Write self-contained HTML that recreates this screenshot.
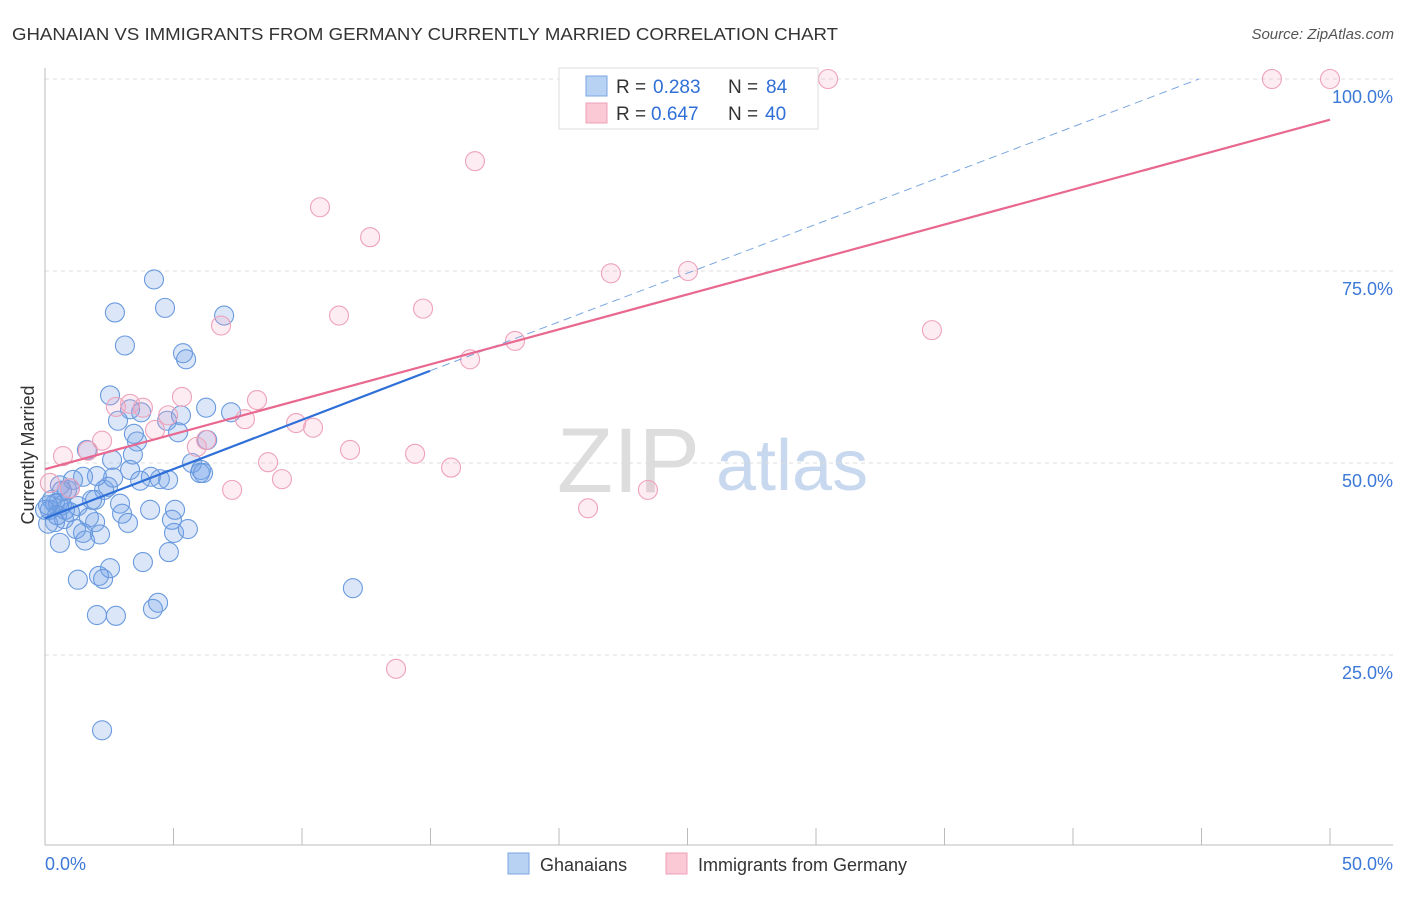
<!DOCTYPE html>
<html><head><meta charset="utf-8"><style>
body{margin:0;background:#fff;font-family:"Liberation Sans",sans-serif;}
svg text{font-family:"Liberation Sans",sans-serif;}
</style></head><body>
<svg width="1406" height="892" viewBox="0 0 1406 892">
<text x="12" y="40" font-size="17.5" fill="#333" textLength="826" lengthAdjust="spacingAndGlyphs">GHANAIAN VS IMMIGRANTS FROM GERMANY CURRENTLY MARRIED CORRELATION CHART</text>
<text x="1394" y="39" font-size="15" fill="#555" font-style="italic" text-anchor="end">Source: ZipAtlas.com</text>
<text x="700" y="492" font-size="92" fill="#ddd" text-anchor="end" font-family="Liberation Serif">ZIP</text>
<text x="716" y="490" font-size="72" fill="#c8d8ee">atlas</text>
<g id="grid"></g>
<g id="axes"></g>
<g id="pts"></g>
<g id="lines"></g>
<text x="34" y="455" font-size="18" fill="#333" text-anchor="middle" transform="rotate(-90 34 455)">Currently Married</text>
<g>
<rect x="559" y="68" width="259" height="61" fill="#fff" stroke="#ddd"/>
<rect x="586" y="76" width="21" height="20" fill="#b8d2f4" stroke="#7aa6e0"/>
<rect x="586" y="103" width="21" height="20" fill="#fbc8d6" stroke="#eca0b8"/>
<text x="616" y="93" font-size="19" fill="#333">R =</text><text x="653" y="93" font-size="19" fill="#2f6fd8">0.283</text>
<text x="728" y="93" font-size="19" fill="#333">N =</text><text x="766" y="93" font-size="19" fill="#2f6fd8">84</text>
<text x="616" y="120" font-size="19" fill="#333">R =</text><text x="651" y="120" font-size="19" fill="#2f6fd8">0.647</text>
<text x="728" y="120" font-size="19" fill="#333">N =</text><text x="765" y="120" font-size="19" fill="#2f6fd8">40</text>
</g>
<g>
<rect x="508" y="853" width="21" height="21" fill="#b8d2f4" stroke="#7aa6e0"/>
<text x="540" y="871" font-size="18" fill="#333">Ghanaians</text>
<rect x="666" y="853" width="21" height="21" fill="#fbc8d6" stroke="#eca0b8"/>
<text x="698" y="871" font-size="18" fill="#333">Immigrants from Germany</text>
</g>
</svg>
<script>
const blueX=[4.24,2.72,4.67,6.97,3.11,5.37,5.49,2.53,3.31,3.74,6.27,7.24,2.84,4.75,5.29,5.18,3.46,3.58,3.42,1.63,6.31,5.72,6.07,6.15,6.03,4.47,4.12,4.79,3.70,2.45,2.30,2.65,2.02,1.48,1.09,0.58,0.27,0.39,0.19,0.51,0.66,0.78,0.97,1.28,1.83,2.92,3.00,1.71,1.95,1.21,1.48,0.74,0.39,0.12,0.58,1.56,2.14,5.06,4.94,5.02,5.56,3.23,4.82,3.81,2.53,2.10,2.26,1.28,4.40,4.20,2.02,2.76,11.98,2.22,0.86,0.0,0.12,0.66,0.97,2.61,1.95,4.09,3.31,0.47];
const blueY=[73.9,69.6,70.2,69.2,65.3,64.3,63.5,58.8,57.0,56.6,57.2,56.6,55.5,55.5,56.2,54.0,53.8,52.8,51.1,51.7,53.0,50.0,49.1,48.7,48.7,47.9,48.2,47.8,47.7,46.9,46.5,48.1,48.3,48.2,47.8,47.1,45.2,44.7,43.9,44.8,44.5,43.9,43.6,44.4,45.2,44.7,43.4,42.9,42.3,41.4,40.9,42.7,42.3,42.1,39.6,39.9,40.7,43.9,42.6,40.9,41.4,42.2,38.4,37.1,36.3,35.3,34.9,34.8,31.8,31.0,30.2,30.1,33.7,15.2,46.5,43.9,44.5,46.4,46.7,50.4,45.2,43.9,49.1,43.2];
const pinkX=[30.47,47.74,50.0,16.73,10.70,12.65,22.02,25.02,6.85,11.44,14.71,34.51,18.29,16.54,5.33,8.25,3.31,3.81,2.76,4.79,7.78,4.28,9.77,10.43,6.27,5.91,2.22,1.67,0.70,11.87,14.40,15.80,8.68,9.22,7.28,23.46,21.13,13.66,0.19,0.97];
const pinkY=[100,100,100,89.3,83.3,79.4,74.7,75.0,67.9,69.2,70.1,67.3,65.9,63.5,58.6,58.2,57.7,57.2,57.3,56.2,55.7,54.3,55.2,54.6,53.0,52.1,52.9,51.6,50.9,51.7,51.2,49.4,50.1,47.9,46.5,46.5,44.1,23.2,47.4,46.7];
const blueFit=[0,42.8,14.98,62.0,44.9,100];
const pinkFit=[0,49.2,50,94.7];
const NS='http://www.w3.org/2000/svg';
const X=v=>45+v/50*1285, Y=v=>847-v/100*768;
function mk(t,a,p){const e=document.createElementNS(NS,t);for(const k in a)e.setAttribute(k,a[k]);document.getElementById(p).appendChild(e);return e;}
[25,50,75,100].forEach(v=>{
 const l=mk('line',{x1:45,x2:1393,y1:Y(v),y2:Y(v),stroke:'#ddd','stroke-dasharray':'4 4'},'grid');
 
 
 const t=mk('text',{x:1393,y:Y(v)+24,'font-size':18,fill:'#3b78d8','text-anchor':'end'},'grid');
 t.textContent=v.toFixed(1)+'%';
 
 
});
mk('line',{x1:45,x2:45,y1:68,y2:845,stroke:'#bbb'},'axes');
mk('line',{x1:45,x2:1393,y1:845,y2:845,stroke:'#bbb'},'axes');
for(let i=0;i<=10;i++){const tk=mk('line',{x1:X(i*5),x2:X(i*5),y1:828,y2:845,stroke:'#bbb'},'axes');
 
 }
let t0=mk('text',{x:45,y:870,'font-size':18,fill:'#3b78d8'},'axes');t0.textContent='0.0%';


let t1=mk('text',{x:1393,y:870,'font-size':18,fill:'#3b78d8','text-anchor':'end'},'axes');t1.textContent='50.0%';


blueX.forEach((v,i)=>{const c=mk('circle',{cx:X(v),cy:Y(blueY[i]),r:9.5,fill:'rgba(110,160,230,0.25)',stroke:'#6a9ade','stroke-width':1.1},'pts');
 
 });
pinkX.forEach((v,i)=>{const c=mk('circle',{cx:X(v),cy:Y(pinkY[i]),r:9.5,fill:'rgba(245,160,190,0.2)',stroke:'#eea2ba','stroke-width':1.1},'pts');
 
 });
let b1=mk('line',{x1:X(blueFit[0]),y1:Y(blueFit[1]),x2:X(blueFit[2]),y2:Y(blueFit[3]),stroke:'#2f6fd8','stroke-width':2.2},'lines');


let b2=mk('line',{x1:X(blueFit[2]),y1:Y(blueFit[3]),x2:X(blueFit[4]),y2:Y(blueFit[5]),stroke:'#7aa6e0','stroke-width':1,'stroke-dasharray':'8 5'},'lines');


let p1=mk('line',{x1:X(pinkFit[0]),y1:Y(pinkFit[1]),x2:X(pinkFit[2]),y2:Y(pinkFit[3]),stroke:'#e86890','stroke-width':2.2},'lines');


</script>
</body></html>
